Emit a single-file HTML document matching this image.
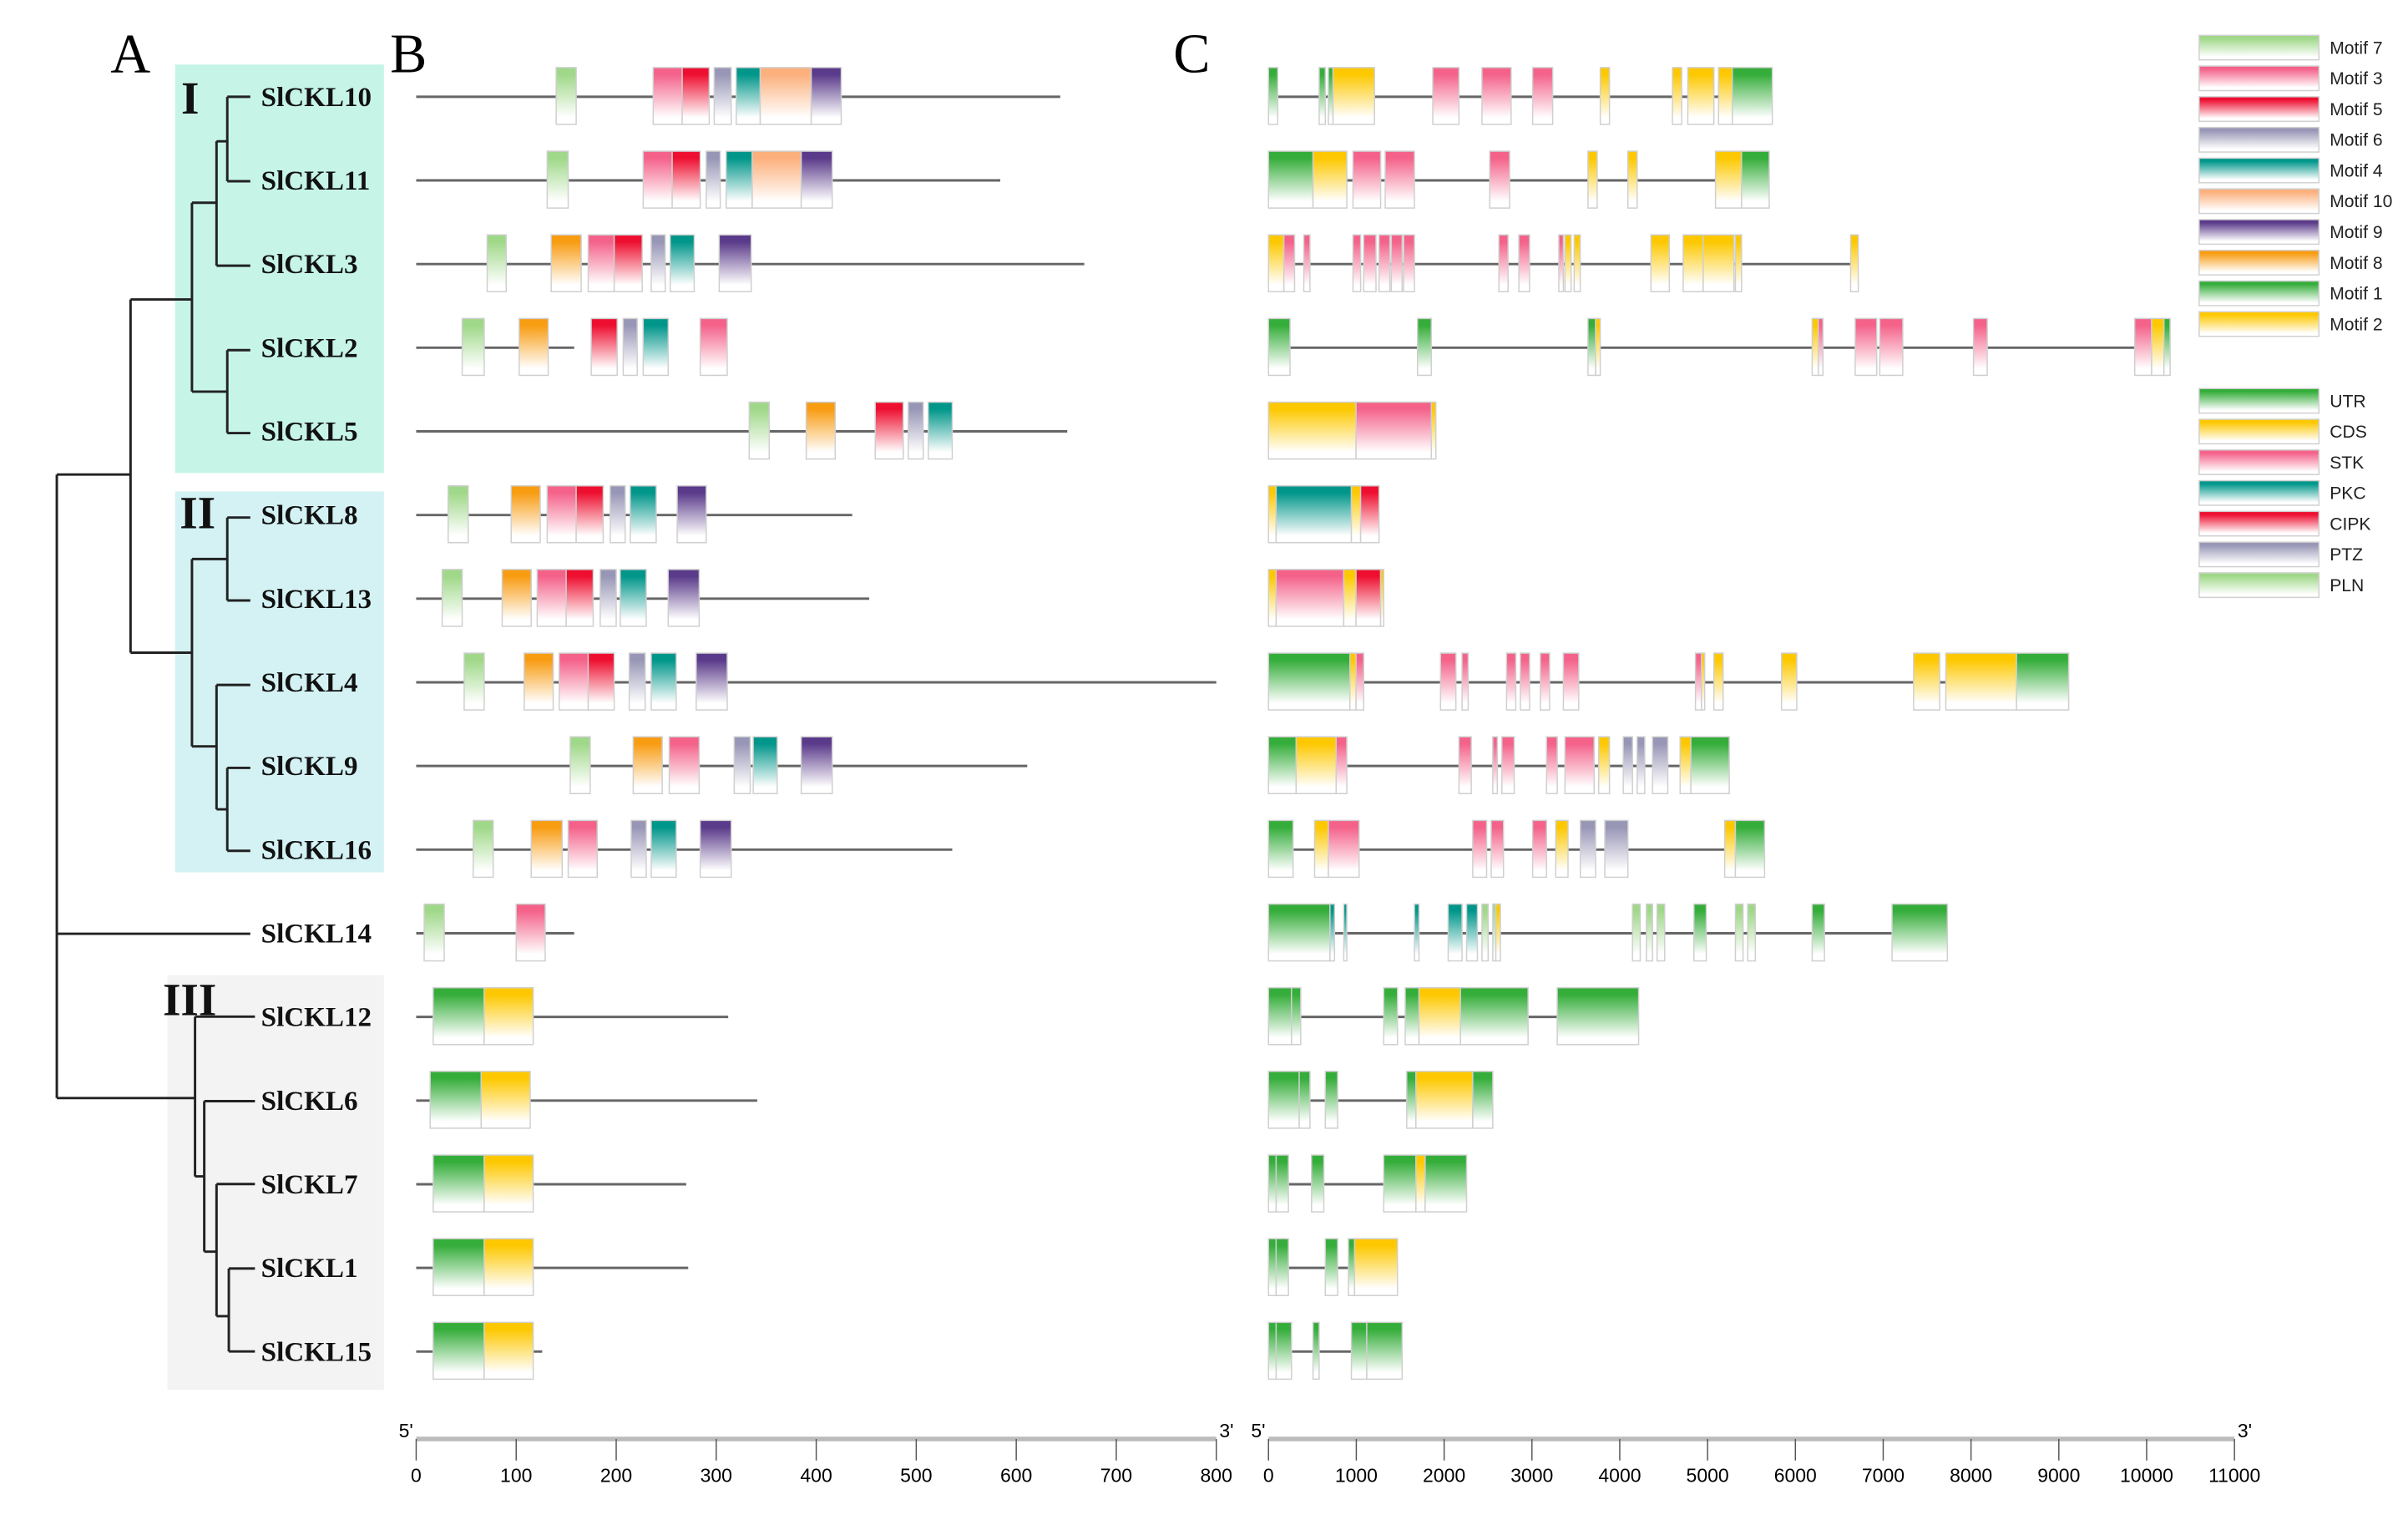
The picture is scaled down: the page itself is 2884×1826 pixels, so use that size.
<!DOCTYPE html>
<html><head><meta charset="utf-8"><style>
html,body{margin:0;padding:0;background:#fff;}
svg{display:block;}
.lab{font-family:"Liberation Serif",serif;font-weight:bold;font-size:18px;fill:#111;}
.big{font-family:"Liberation Serif",serif;font-size:36px;fill:#000;}
.rom{font-family:"Liberation Serif",serif;font-weight:bold;font-size:30px;fill:#111;}
.leg{font-family:"Liberation Sans",sans-serif;font-size:11.5px;fill:#222;}
.tick{font-family:"Liberation Sans",sans-serif;font-size:12.5px;fill:#000;}
</style></head><body>
<svg id="fig" width="2884" height="1826" viewBox="0 0 1568 993" preserveAspectRatio="none" xmlns="http://www.w3.org/2000/svg">
<defs id="defs"></defs>
<g>
<rect x="114" y="42" width="136" height="266" fill="#c6f5e8"/>
<rect x="114" y="320" width="136" height="248" fill="#d4f2f4"/>
<rect x="109" y="635" width="141" height="270" fill="#f3f3f3"/>
<text class="big" x="72" y="47">A</text>
<text class="big" x="254" y="47">B</text>
<text class="big" x="764" y="47">C</text>
<text class="rom" x="118" y="74">I</text>
<text class="rom" x="117" y="344">II</text>
<text class="rom" x="106" y="661">III</text>
<path fill="none" stroke="#222" stroke-width="1.6" d="
M148,63H163 M148,118H163 M148,63V118 M141,92H148
M141,173H163 M141,92V173 M125,132H141
M148,228H163 M148,282H163 M148,228V282 M125,255H148 M125,132V255
M85,195H125
M148,337H163 M148,391H163 M148,337V391 M125,364H148
M141,446H163 M148,500H163 M148,554H163 M148,500V554 M141,527H148 M141,446V527 M125,486H141 M125,364V486
M85,425H125 M85,195V425 M37,309H85
M37,608H163 M37,309V715 M37,715H127
M127,662H166 M127,662V766 M133,766H127
M133,717H166 M133,717V815 M141,815H133
M141,771H166 M141,771V857 M149,857H141
M149,826H166 M149,880H166 M149,826V880"/>
<g id="labels"></g>
</g>
<g id="panelB"></g>
<g id="panelC"></g>
<g id="legend"></g>
<g id="axes"></g>
</svg>
<script>
const genes=["SlCKL10","SlCKL11","SlCKL3","SlCKL2","SlCKL5","SlCKL8","SlCKL13","SlCKL4","SlCKL9","SlCKL16","SlCKL14","SlCKL12","SlCKL6","SlCKL7","SlCKL1","SlCKL15"];
const proteinLengths=[644,584,668,158,651,436,453,800,611,536,158,312,341,270,272,126];
// motif domains (aa): [type,start,end]
const motifData=[
[["m7",140,160],["m3",237,266],["m5",266,293],["m6",298,315],["m4",320,344],["m10",344,395],["m9",395,425]],
[["m7",131,152],["m3",227,256],["m5",256,284],["m6",290,304],["m4",310,336],["m10",336,385],["m9",385,416]],
[["m7",71,90],["m8",135,165],["m3",172,198],["m5",198,226],["m6",235,249],["m4",254,278],["m9",303,335]],
[["m7",46,68],["m8",103,132],["m5",175,201],["m6",207,221],["m4",227,252],["m3",284,311]],
[["m7",333,353],["m8",390,419],["m5",459,487],["m6",492,507],["m4",512,536]],
[["m7",32,52],["m8",95,124],["m3",131,160],["m5",160,187],["m6",194,209],["m4",214,240],["m9",261,290]],
[["m7",26,46],["m8",86,115],["m3",121,150],["m5",150,177],["m6",184,200],["m4",204,230],["m9",252,283]],
[["m7",48,68],["m8",108,137],["m3",143,172],["m5",172,198],["m6",213,229],["m4",235,260],["m9",280,311]],
[["m7",154,174],["m8",217,246],["m3",253,283],["m6",318,334],["m4",337,361],["m9",385,416]],
[["m7",57,77],["m8",115,146],["m3",152,181],["m6",215,230],["m4",235,260],["m9",284,315]],
[["m7",8,28],["m3",100,129]],
[["m1",17,68],["m2",68,117]],
[["m1",14,65],["m2",65,114]],
[["m1",17,68],["m2",68,117]],
[["m1",17,68],["m2",68,117]],
[["m1",17,68],["m2",68,117]]
];
const geneLengths=[5737,5702,6716,10267,1906,1259,1312,9112,5247,5649,7731,4215,2554,2256,1469,1522];
// gene features (bp): [type,start,end]
const featureData=[
[["utr",0,105],["utr",577,647],["utr",682,735],["cds",735,1207],["stk",1871,2169],["stk",2431,2763],["stk",3008,3236],["cds",3778,3883],["cds",4600,4705],["cds",4775,5072],["cds",5125,5282],["utr",5282,5737]],
[["utr",0,507],["cds",507,892],["stk",962,1277],["stk",1329,1662],["stk",2519,2746],["cds",3638,3743],["cds",4093,4198],["cds",5090,5387],["utr",5387,5702]],
[["cds",0,175],["stk",175,297],["stk",402,472],["stk",962,1049],["stk",1084,1224],["stk",1259,1382],["stk",1399,1522],["stk",1539,1662],["stk",2624,2728],["stk",2851,2973],["stk",3306,3358],["cds",3376,3446],["cds",3481,3550],["cds",4355,4565],["cds",4722,4950],["cds",4950,5300],["cds",5317,5387],["cds",6629,6716]],
[["utr",0,245],["utr",1697,1854],["utr",3638,3725],["cds",3725,3778],["cds",6191,6261],["stk",6261,6314],["stk",6681,6926],["stk",6961,7223],["stk",8028,8185],["stk",9864,10057],["cds",10057,10197],["utr",10197,10267]],
[["cds",0,997],["stk",997,1854],["cds",1854,1906]],
[["cds",0,87],["pkc",87,944],["cds",944,1049],["cipk",1049,1259]],
[["cds",0,87],["stk",87,857],["cds",857,997],["cipk",997,1277],["cds",1277,1312]],
[["utr",0,927],["cds",927,997],["stk",997,1084],["stk",1959,2134],["stk",2204,2274],["stk",2711,2816],["stk",2868,2973],["stk",3096,3201],["stk",3358,3533],["stk",4862,4932],["cds",4932,4967],["cds",5072,5177],["cds",5842,6016],["cds",7346,7643],["cds",7713,8518],["utr",8518,9112]],
[["utr",0,315],["cds",315,770],["stk",770,892],["stk",2169,2309],["stk",2554,2606],["stk",2658,2798],["stk",3166,3288],["stk",3376,3708],["cds",3760,3883],["ptz",4040,4145],["ptz",4198,4285],["ptz",4373,4547],["cds",4687,4810],["utr",4810,5247]],
[["utr",0,280],["cds",525,682],["stk",682,1032],["stk",2326,2484],["stk",2536,2676],["stk",3008,3166],["cds",3271,3411],["ptz",3551,3725],["ptz",3830,4093],["cds",5195,5317],["utr",5317,5649]],
[["utr",0,700],["pkc",700,752],["pkc",857,892],["pkc",1662,1714],["pkc",2046,2204],["pkc",2256,2379],["pln",2431,2501],["pln",2554,2589],["cds",2589,2641],["pln",4145,4233],["pln",4303,4373],["pln",4425,4512],["utr",4845,4985],["pln",5317,5404],["pln",5457,5544],["utr",6191,6331],["utr",7101,7731]],
[["utr",0,262],["utr",262,367],["utr",1312,1469],["utr",1557,1714],["cds",1714,2186],["utr",2186,2956],["utr",3288,4215]],
[["utr",0,350],["utr",350,472],["utr",647,787],["utr",1574,1679],["cds",1679,2326],["utr",2326,2554]],
[["utr",0,87],["utr",87,227],["utr",490,630],["utr",1312,1679],["cds",1679,1784],["utr",1784,2256]],
[["utr",0,87],["utr",87,227],["utr",647,787],["utr",910,980],["cds",980,1469]],
[["utr",0,87],["utr",87,262],["utr",507,577],["utr",944,1119],["utr",1119,1522]]
];
const motifLegend=[["m7","Motif 7"],["m3","Motif 3"],["m5","Motif 5"],["m6","Motif 6"],["m4","Motif 4"],["m10","Motif 10"],["m9","Motif 9"],["m8","Motif 8"],["m1","Motif 1"],["m2","Motif 2"]];
const featLegend=[["utr","UTR"],["cds","CDS"],["stk","STK"],["pkc","PKC"],["cipk","CIPK"],["ptz","PTZ"],["pln","PLN"]];
const ticksB=[0,100,200,300,400,500,600,700,800];
const ticksC=[0,1000,2000,3000,4000,5000,6000,7000,8000,9000,10000,11000];

const colors={m7:"#9fd888",m3:"#f4628a",m5:"#ee0f30",m6:"#9896b6",m4:"#00968a",m10:"#fcb07c",m9:"#5a3a8a",m8:"#f89c12",m1:"#35ad3a",m2:"#fdc800",
utr:"#35ad3a",cds:"#fdc800",stk:"#f4628a",pkc:"#00968a",cipk:"#ee0f30",ptz:"#9896b6",pln:"#9fd888"};
const NS="http://www.w3.org/2000/svg";
function mk(tag,attrs,parent){const e=document.createElementNS(NS,tag);for(const k in attrs)e.setAttribute(k,attrs[k]);parent.appendChild(e);return e;}
const defs=document.getElementById('defs');
for(const k in colors){const g=mk('linearGradient',{id:'g_'+k,x1:0,y1:0,x2:0,y2:1},defs);
mk('stop',{offset:0,'stop-color':colors[k]},g);mk('stop',{offset:0.12,'stop-color':colors[k]},g);mk('stop',{offset:0.88,'stop-color':'#fff'},g);mk('stop',{offset:1,'stop-color':'#fff'},g);}
const xB=v=>271+v*(792-271)/800;
const xC=v=>826+v*(1455-826)/11000;
const rowY=i=>63+i*54.47;
const labels=document.getElementById('labels');
genes.forEach((g,i)=>{const t=mk('text',{class:'lab',x:170,y:rowY(i)+6},labels);t.textContent=g;

});
function box(parent,x1,x2,y,type,name){const r=mk('rect',{x:x1,y:y-19,width:Math.max(x2-x1,1.2),height:37,fill:'url(#g_'+type+')',stroke:'#cfcfcf','stroke-width':0.8},parent);

}
const pB=document.getElementById('panelB');
genes.forEach((g,i)=>{const y=rowY(i);
const l=mk('line',{x1:xB(0),x2:xB(proteinLengths[i]),y1:y,y2:y,stroke:'#666','stroke-width':1.6},pB);


motifData[i].forEach(m=>box(pB,xB(m[1]),xB(m[2]),y,m[0],'motif-'+m[0]+'-'+g.toLowerCase()));});
const pC=document.getElementById('panelC');
genes.forEach((g,i)=>{const y=rowY(i);
const l=mk('line',{x1:xC(0),x2:xC(geneLengths[i]),y1:y,y2:y,stroke:'#666','stroke-width':1.6},pC);


featureData[i].forEach(f=>box(pC,xC(f[1]),xC(f[2]),y,f[0],'feature-'+f[0]+'-'+g.toLowerCase()));});
const lg=document.getElementById('legend');
function legItem(k,txt,y){const r=mk('rect',{x:1432,y:y,width:78,height:16,fill:'url(#g_'+k+')',stroke:'#d0d0d0','stroke-width':0.8},lg);


const t=mk('text',{class:'leg',x:1517,y:y+12},lg);t.textContent=txt;

}
motifLegend.forEach((m,i)=>legItem(m[0],m[1],23+i*20));
featLegend.forEach((m,i)=>legItem(m[0],m[1],253+i*20));
const ax=document.getElementById('axes');
function axis(ticks,xf,name){const y=937;
const a=mk('line',{x1:xf(ticks[0]),x2:xf(ticks[ticks.length-1]),y1:y,y2:y,stroke:'#bbb','stroke-width':3},ax);


ticks.forEach(v=>{const x=xf(v);mk('line',{x1:x,x2:x,y1:y,y2:y+14,stroke:'#555','stroke-width':0.8},ax);
const t=mk('text',{class:'tick',x:x,y:y+28,'text-anchor':'middle'},ax);t.textContent=v;

});
const s=mk('text',{class:'tick',x:xf(ticks[0])-2,y:y-1,'text-anchor':'end'},ax);s.textContent="5'";


const e=mk('text',{class:'tick',x:xf(ticks[ticks.length-1])+2,y:y-1},ax);e.textContent="3'";

}
axis(ticksB,xB,'protein-axis');
axis(ticksC,xC,'gene-axis');
</script>
</body></html>
